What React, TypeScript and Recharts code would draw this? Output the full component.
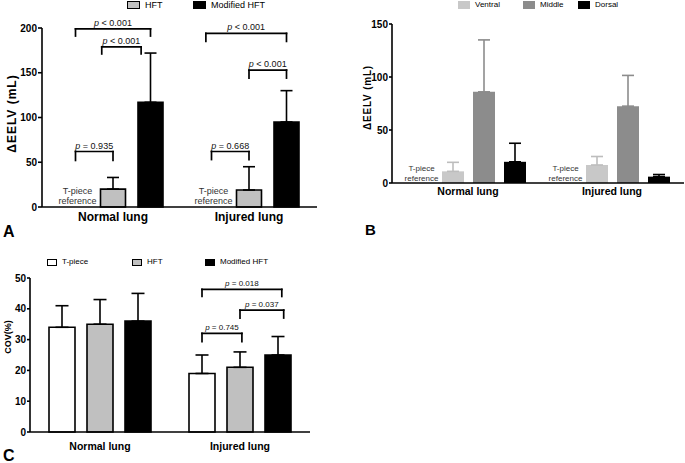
import React from 'react';
import { BarChart, Bar, XAxis, YAxis, ErrorBar, ReferenceLine, Legend } from 'recharts';

const FONT = '"Liberation Sans", Arial, Helvetica, sans-serif';

const groups = ['Normal lung', 'Injured lung'];

// Panel A – ΔEELV (mL); T-piece is the zero reference
const aSeries = ['T-piece', 'HFT', 'Modified HFT'];
const aTpiece = [0, 0];
const aHFT = [20, 19];
const aHFTsd = [13, 26];
const aMHFT = [117, 95];
const aMHFTsd = [55, 35];
const aTicks = [0, 50, 100, 150, 200];
const aBrackets = [
  { group: 0, from: 0, to: 2, y: 199, leg: 191, text: '< 0.001' },
  { group: 0, from: 0.7, to: 1.75, y: 179, leg: 171, text: '< 0.001' },
  { group: 0, from: 0, to: 1, y: 62, leg: 52, text: '= 0.935' },
  { group: 1, from: -0.15, to: 2, y: 194, leg: 185, text: '< 0.001' },
  { group: 1, from: 1, to: 2, y: 153, leg: 144, text: '< 0.001' },
  { group: 1, from: 0, to: 1, y: 62, leg: 53, text: '= 0.668' },
];

// Panel B – regional ΔEELV (mL)
const bSeries = ['T-piece', 'Ventral', 'Middle', 'Dorsal'];
const bTpiece = [0, 0];
const bVentral = [11, 17];
const bVentralSd = [8.5, 8];
const bMiddle = [86, 72.5];
const bMiddleSd = [49, 29];
const bDorsal = [20, 6];
const bDorsalSd = [17.5, 2];
const bTicks = [0, 50, 100, 150];

// Panel C – COV (%)
const cSeries = ['T-piece', 'HFT', 'Modified HFT'];
const cTpiece = [34, 19];
const cTpieceSd = [7, 6];
const cHFT = [35, 21];
const cHFTsd = [8, 5];
const cMHFT = [36, 25];
const cMHFTsd = [9, 6];
const cTicks = [0, 10, 20, 30, 40, 50];
const cBrackets = [
  { group: 1, from: 0, to: 2.1, y: 46.3, leg: 44, text: '= 0.018' },
  { group: 1, from: 1, to: 2.15, y: 39.6, leg: 37, text: '= 0.037' },
  { group: 1, from: 0, to: 1.05, y: 32, leg: 29.3, text: '= 0.745' },
];

const axisLine = { stroke: '#000', strokeWidth: 1.6 };

type Lay = { n: number; barSize: number; barGap: number; band: number };
// position (in units of the hidden 0..1 numeric axis) of a bar slot inside a group
const slotPos = (lay: Lay, g: number, s: number) =>
  (g + 0.5 + ((s - (lay.n - 1) / 2) * (lay.barSize + lay.barGap)) / lay.band) / 2;

const PLabel = (props: any) => {
  const vb = props.viewBox || {};
  const cx = Number(vb.x) + Number(vb.width || 0) / 2;
  return (
    <text x={cx} y={Number(vb.y) - 3} textAnchor="middle" fontFamily={FONT} fontSize={props.fontSize} fill="#111">
      <tspan fontStyle="italic">p</tspan>
      {' ' + props.text}
    </text>
  );
};

const TRef = (props: any) => {
  const vb = props.viewBox || {};
  const cx = Number(vb.x) + Number(vb.width || 0) / 2 + (props.dx || 0);
  const base = Number(vb.y) + Number(vb.height || 0);
  return (
    <text textAnchor="middle" fontFamily={FONT} fontSize={props.fontSize} fill="#333">
      <tspan x={cx} y={base - props.d1}>T-piece</tspan>
      <tspan x={cx} y={base - props.d2}>reference</tspan>
    </text>
  );
};

function renderTRef(lay: Lay, count: number, fontSize: number, d1: number, d2: number, dx: number) {
  const out: any[] = [];
  for (let g = 0; g < count; g++) {
    const x = slotPos(lay, g, 0);
    out.push(
      <ReferenceLine key={`t${g}`} xAxisId="n" stroke="none" ifOverflow="visible"
        segment={[{ x, y: 0 }, { x, y: 0.5 }]} label={<TRef fontSize={fontSize} d1={d1} d2={d2} dx={dx} />} />
    );
  }
  return out;
}

function renderBrackets(list: any[], lay: Lay, fontSize: number) {
  const common = { xAxisId: 'n', stroke: '#000', strokeWidth: 1.7, strokeLinecap: 'square' as any, ifOverflow: 'visible' as any };
  return list.flatMap((b, i) => {
    const x1 = slotPos(lay, b.group, b.from);
    const x2 = slotPos(lay, b.group, b.to);
    return [
      <ReferenceLine key={`h${i}`} {...common} segment={[{ x: x1, y: b.y }, { x: x2, y: b.y }]} label={<PLabel text={b.text} fontSize={fontSize} />} />,
      <ReferenceLine key={`l${i}`} {...common} segment={[{ x: x1, y: b.y }, { x: x1, y: b.leg }]} />,
      <ReferenceLine key={`r${i}`} {...common} segment={[{ x: x2, y: b.y }, { x: x2, y: b.leg }]} />,
    ];
  });
}

const makeLegend = (order: string[], fontSize: number, widths: number[], boxW: number, boxH: number, borders: Record<string, string>) => (props: any) => {
  const items = (props.payload || [])
    .filter((e: any) => e.type !== 'none')
    .sort((a: any, b: any) => order.indexOf(a.value) - order.indexOf(b.value));
  return (
    <div style={{ display: 'flex', alignItems: 'center', fontFamily: FONT, fontSize, lineHeight: '10px', color: '#000', whiteSpace: 'nowrap' }}>
      {items.map((e: any, i: number) => (
        <div key={i} style={{ display: 'flex', alignItems: 'center', width: widths[i] }}>
          <span style={{ display: 'inline-block', boxSizing: 'border-box', width: boxW, height: boxH, background: e.color, border: `1.2px solid ${borders[e.value] || e.color}` }} />
          <span style={{ marginLeft: 5 }}>{e.value}</span>
        </div>
      ))}
    </div>
  );
};

const YLabel = (props: any) => {
  const vb = props.viewBox || {};
  const x = Number(vb.x) + props.offsetX;
  const y = Number(vb.y) + Number(vb.height) / 2 + (props.shift || 0);
  return (
    <text x={x} y={y} transform={`rotate(-90, ${x}, ${y})`} textAnchor="middle" dominantBaseline="central"
      fontFamily={FONT} fontWeight="bold" fontSize={props.fontSize} letterSpacing={props.ls || 0} fill="#000">
      {props.value}
    </text>
  );
};

const yTick = { fill: '#000', fontSize: 10, fontWeight: 'bold', fontFamily: FONT };

function PanelA() {
  const data = groups.map((g, i) => ({
    group: g,
    tpiece: aTpiece[i],
    hft: aHFT[i],
    hftErr: [0, aHFTsd[i]],
    mhft: aMHFT[i],
    mhftErr: [0, aMHFTsd[i]],
  }));
  const barSize = 25, barGap = 12.5, padL = 3;
  const lay = { n: 3, barSize, barGap, band: (340 - 23 - 42 - padL) / 2 };
  return (
    <BarChart width={340} height={240} data={data} margin={{ top: 28, right: 23, bottom: 3, left: 0 }} barSize={barSize} barGap={barGap}>
      <XAxis xAxisId="c" dataKey="group" height={30} padding={{ left: padL, right: 0 }} axisLine={axisLine} tickLine={false} tickSize={3} tickMargin={2} interval={0}
        tick={{ fill: '#000', fontSize: 12, fontWeight: 'bold', fontFamily: FONT }} />
      <XAxis xAxisId="n" type="number" domain={[0, 1]} padding={{ left: padL, right: 0 }} hide allowDataOverflow />
      <YAxis domain={[0, 200]} ticks={aTicks} width={42} interval={0} axisLine={axisLine} tickLine={axisLine} tickSize={4} tickMargin={1} tick={yTick}
        label={<YLabel value="ΔEELV (mL)" offsetX={12} fontSize={12} ls={1} shift={-4} />} />
      <Legend layout="vertical" align="center" verticalAlign="middle" wrapperStyle={{ top: 0, left: 127, width: 'auto', height: 'auto' }}
        content={makeLegend(aSeries, 9, [66, 90], 13, 8, { HFT: '#000', 'Modified HFT': '#000' })} />
      <Bar xAxisId="c" dataKey="tpiece" name="T-piece" fill="none" legendType="none" isAnimationActive={false} />
      <Bar xAxisId="c" dataKey="hft" name="HFT" fill="#c0c0c0" stroke="#000" strokeWidth={1.6} isAnimationActive={false}>
        <ErrorBar dataKey="hftErr" width={6} stroke="#000" strokeWidth={1.6} />
      </Bar>
      <Bar xAxisId="c" dataKey="mhft" name="Modified HFT" fill="#000" stroke="#000" strokeWidth={1.6} isAnimationActive={false}>
        <ErrorBar dataKey="mhftErr" width={6} stroke="#000" strokeWidth={1.6} />
      </Bar>
      {renderTRef(lay, groups.length, 9, 13, 3, 2)}
      {renderBrackets(aBrackets, lay, 9)}
    </BarChart>
  );
}

function PanelB() {
  const data = groups.map((g, i) => ({
    group: g,
    tpiece: bTpiece[i],
    ventral: bVentral[i],
    ventralErr: [0, bVentralSd[i]],
    middle: bMiddle[i],
    middleErr: [0, bMiddleSd[i]],
    dorsal: bDorsal[i],
    dorsalErr: [0, bDorsalSd[i]],
  }));
  const barSize = 22, barGap = 9, padL = 4;
  const lay = { n: 4, barSize, barGap, band: (345 - 1 - 52 - padL) / 2 };
  return (
    <BarChart width={345} height={240} data={data} margin={{ top: 24, right: 1, bottom: 27, left: 0 }} barSize={barSize} barGap={barGap}>
      <XAxis xAxisId="c" dataKey="group" height={30} padding={{ left: padL, right: 0 }} axisLine={axisLine} tickLine={false} tickSize={3} tickMargin={2} interval={0}
        tick={{ fill: '#000', fontSize: 10.5, fontWeight: 'bold', fontFamily: FONT }} />
      <XAxis xAxisId="n" type="number" domain={[0, 1]} padding={{ left: padL, right: 0 }} hide allowDataOverflow />
      <YAxis domain={[0, 150]} ticks={bTicks} width={52} interval={0} axisLine={axisLine} tickLine={axisLine} tickSize={3} tickMargin={1} tick={yTick}
        label={<YLabel value="ΔEELV (mL)" offsetX={27} fontSize={10} ls={0.8} shift={-6} />} />
      <Legend layout="vertical" align="center" verticalAlign="middle" wrapperStyle={{ top: 0, left: 118, width: 'auto', height: 'auto' }}
        content={makeLegend(bSeries, 8, [65, 55, 60], 12, 8, {})} />
      <Bar xAxisId="c" dataKey="tpiece" name="T-piece" fill="none" legendType="none" isAnimationActive={false} />
      <Bar xAxisId="c" dataKey="ventral" name="Ventral" fill="#c8c8c8" isAnimationActive={false}>
        <ErrorBar dataKey="ventralErr" width={6} stroke="#bdbdbd" strokeWidth={1.6} />
      </Bar>
      <Bar xAxisId="c" dataKey="middle" name="Middle" fill="#8c8c8c" isAnimationActive={false}>
        <ErrorBar dataKey="middleErr" width={6} stroke="#8c8c8c" strokeWidth={1.6} />
      </Bar>
      <Bar xAxisId="c" dataKey="dorsal" name="Dorsal" fill="#000" isAnimationActive={false}>
        <ErrorBar dataKey="dorsalErr" width={6} stroke="#000" strokeWidth={1.6} />
      </Bar>
      {renderTRef(lay, groups.length, 8, 12.5, 2.5, 0)}
    </BarChart>
  );
}

function PanelC() {
  const data = groups.map((g, i) => ({
    group: g,
    tpiece: cTpiece[i],
    tpieceErr: [0, cTpieceSd[i]],
    hft: cHFT[i],
    hftErr: [0, cHFTsd[i]],
    mhft: cMHFT[i],
    mhftErr: [0, cMHFTsd[i]],
  }));
  const barSize = 26, barGap = 12;
  const lay = { n: 3, barSize, barGap, band: (340 - 30 - 30) / 2 };
  return (
    <BarChart width={340} height={223} data={data} margin={{ top: 38, right: 30, bottom: 11, left: 0 }} barSize={barSize} barGap={barGap}>
      <XAxis xAxisId="c" dataKey="group" height={20} axisLine={axisLine} tickLine={false} tickSize={3} tickMargin={8} interval={0}
        tick={{ fill: '#000', fontSize: 10.5, fontWeight: 'bold', fontFamily: FONT }} />
      <XAxis xAxisId="n" type="number" domain={[0, 1]} hide allowDataOverflow />
      <YAxis domain={[0, 50]} ticks={cTicks} width={30} interval={0} axisLine={axisLine} tickLine={axisLine} tickSize={3} tickMargin={1} tick={yTick}
        label={<YLabel value="COV(%)" offsetX={7.5} fontSize={9} shift={-18} />} />
      <Legend layout="vertical" align="center" verticalAlign="middle" wrapperStyle={{ top: 17, left: 47, width: 'auto', height: 'auto' }}
        content={makeLegend(cSeries, 8, [85, 73, 80], 10, 7, { 'T-piece': '#000', HFT: '#000', 'Modified HFT': '#000' })} />
      <Bar xAxisId="c" dataKey="tpiece" name="T-piece" fill="#fff" stroke="#000" strokeWidth={1.6} isAnimationActive={false}>
        <ErrorBar dataKey="tpieceErr" width={6.5} stroke="#000" strokeWidth={1.6} />
      </Bar>
      <Bar xAxisId="c" dataKey="hft" name="HFT" fill="#c0c0c0" stroke="#000" strokeWidth={1.6} isAnimationActive={false}>
        <ErrorBar dataKey="hftErr" width={6.5} stroke="#000" strokeWidth={1.6} />
      </Bar>
      <Bar xAxisId="c" dataKey="mhft" name="Modified HFT" fill="#000" stroke="#000" strokeWidth={1.6} isAnimationActive={false}>
        <ErrorBar dataKey="mhftErr" width={6.5} stroke="#000" strokeWidth={1.6} />
      </Bar>
      {renderBrackets(cBrackets, lay, 8)}
    </BarChart>
  );
}

export default function App() {
  return (
    <div style={{ position: 'absolute', left: 0, top: 0, width: 685, height: 463, background: '#fff', overflow: 'hidden', fontFamily: FONT }}>
      <div style={{ position: 'absolute', left: 0, top: 0 }}><PanelA /></div>
      <div style={{ position: 'absolute', left: 340, top: 0 }}><PanelB /></div>
      <div style={{ position: 'absolute', left: 0, top: 240 }}><PanelC /></div>
      <svg width={685} height={463} style={{ position: 'absolute', left: 0, top: 0, pointerEvents: 'none' }}>
        <text x={3} y={237} fontFamily={FONT} fontWeight="bold" fontSize={16} fill="#000">A</text>
        <text x={365} y={235} fontFamily={FONT} fontWeight="bold" fontSize={15} fill="#000">B</text>
        <text x={3} y={461} fontFamily={FONT} fontWeight="bold" fontSize={16} fill="#000">C</text>
      </svg>
    </div>
  );
}
